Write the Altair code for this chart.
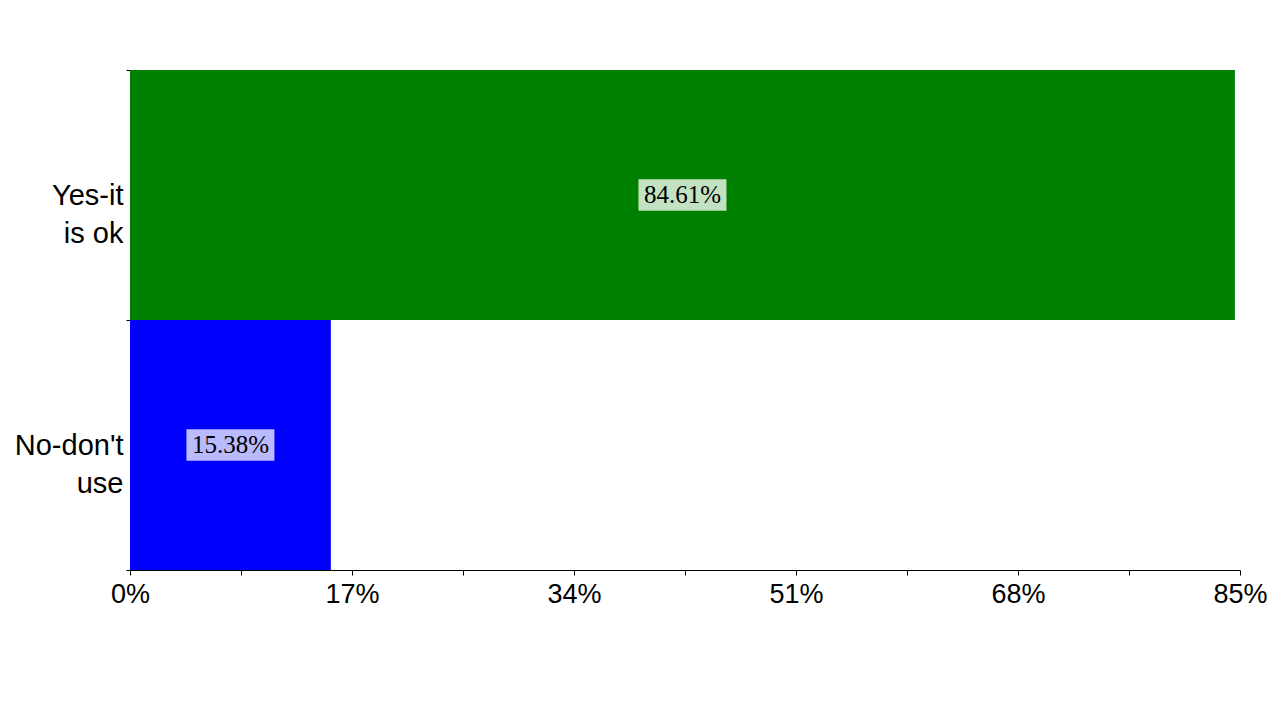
import altair as alt
import pandas as pd

categories = ["Yes-it\nis ok", "No-don't\nuse"]
values = [84.61, 15.38]
value_labels = ["84.61%", "15.38%"]
bar_colors = ["#008000", "#0000ff"]
label_bg = ["#c2e2c2", "#babaff"]
x_ticks = [0, 8.5, 17, 25.5, 34, 42.5, 51, 59.5, 68, 76.5, 85]

df = pd.DataFrame({
    "cat": categories,
    "value": values,
    "mid": [v / 2 for v in values],
    "label": value_labels,
    "color": bar_colors,
    "bg": label_bg,
})

y_enc = alt.Y("cat:N", sort=categories, title=None,
              scale=alt.Scale(paddingInner=0, paddingOuter=0),
              axis=alt.Axis(labelExpr="split(datum.label, '\\n')",
                            labelFont="Liberation Sans", labelFontSize=29,
                            labelColor="#000000", labelPadding=3,
                            tickBand="extent", tickSize=4, tickColor="#000000",
                            domainColor="#000000", labelLineHeight=38,
                            grid=False))

x_scale = alt.Scale(domain=[0, 85], nice=False, zero=True)

bars = alt.Chart(df).mark_bar(stroke=None).encode(
    x=alt.X("value:Q", scale=x_scale, title=None,
            axis=alt.Axis(values=x_ticks,
                          labelExpr="datum.value % 17 == 0 ? format(datum.value, 'd') + '%' : ''",
                          labelFont="Liberation Sans", labelFontSize=27,
                          labelColor="#000000", tickColor="#000000",
                          domainColor="#000000", tickSize=5, grid=False,
                          labelPadding=6, labelFlush=False)),
    y=y_enc,
    color=alt.Color("color:N", scale=None),
)

boxes = alt.Chart(df).mark_point(
    shape="M-1,-0.36 L1,-0.36 L1,0.36 L-1,0.36 Z",
    filled=True, opacity=1, size=88 * 88, strokeWidth=0,
).encode(
    x=alt.X("mid:Q", scale=x_scale),
    y=alt.Y("cat:N", sort=categories),
    color=alt.Color("bg:N", scale=None),
)

texts = alt.Chart(df).mark_text(
    font="Liberation Serif", fontSize=25, color="#000000",
    align="center", baseline="middle",
).encode(
    x=alt.X("mid:Q", scale=x_scale),
    y=alt.Y("cat:N", sort=categories),
    text="label:N",
)

chart = alt.layer(bars, boxes, texts).properties(
    width=1110, height=500,
    background="#ffffff",
    padding={"left": 122, "top": 62, "right": 30, "bottom": 60},
    autosize=alt.AutoSizeParams(type="none"),
).configure_view(stroke="transparent", strokeWidth=0).configure_axis(
    grid=False
)

chart.save("out.html", embed_options={"renderer": "svg", "actions": False})
